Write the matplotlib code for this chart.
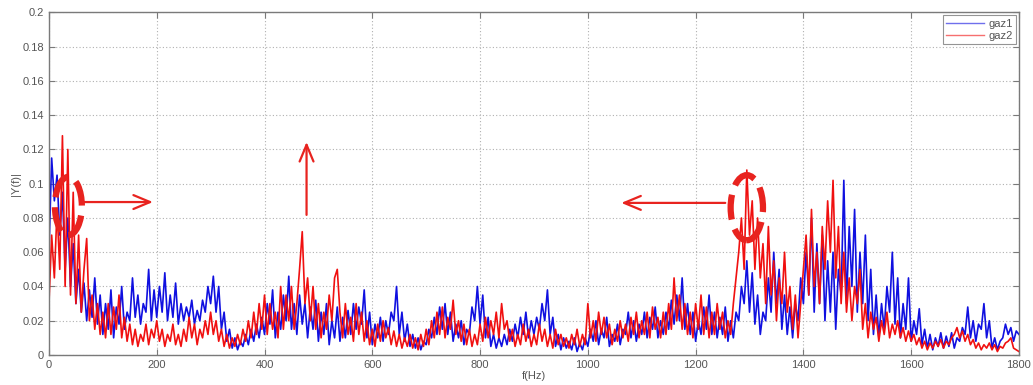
import numpy as np
import matplotlib
matplotlib.use('Agg')
import matplotlib.pyplot as plt
from matplotlib.patches import Ellipse

# -----------------------------------------
# ----------- DATA ------------------------
# -----------------------------------------

F_STEP = 5
F_MAX = 1800

# |Y(f)| for gaz1, one value every 5 Hz (one row = 100 Hz)
gaz1 = [
    0.060, 0.115, 0.090, 0.105, 0.070, 0.095, 0.050, 0.080, 0.040, 0.065, 0.030, 0.050, 0.025, 0.042, 0.020, 0.038, 0.022, 0.045, 0.018, 0.035,
    0.012, 0.030, 0.015, 0.038, 0.010, 0.028, 0.018, 0.040, 0.015, 0.025, 0.020, 0.045, 0.022, 0.035, 0.018, 0.030, 0.025, 0.050, 0.020, 0.038,
    0.022, 0.040, 0.025, 0.048, 0.020, 0.035, 0.022, 0.042, 0.018, 0.030, 0.020, 0.028, 0.022, 0.032, 0.018, 0.026, 0.020, 0.032, 0.025, 0.040,
    0.030, 0.046, 0.025, 0.040, 0.015, 0.025, 0.008, 0.015, 0.004, 0.010, 0.003, 0.008, 0.005, 0.012, 0.006, 0.015, 0.008, 0.018, 0.010, 0.022,
    0.012, 0.030, 0.018, 0.038, 0.010, 0.025, 0.015, 0.035, 0.020, 0.046, 0.015, 0.030, 0.012, 0.035, 0.018, 0.030, 0.010, 0.028, 0.015, 0.032,
    0.008, 0.025, 0.012, 0.030, 0.006, 0.020, 0.010, 0.028, 0.008, 0.022, 0.010, 0.026, 0.012, 0.030, 0.015, 0.028, 0.018, 0.038, 0.010, 0.025,
    0.006, 0.018, 0.010, 0.022, 0.008, 0.020, 0.012, 0.025, 0.020, 0.040, 0.012, 0.025, 0.008, 0.018, 0.005, 0.012, 0.004, 0.010, 0.003, 0.008,
    0.006, 0.015, 0.010, 0.022, 0.012, 0.028, 0.015, 0.030, 0.012, 0.025, 0.008, 0.018, 0.010, 0.020, 0.006, 0.015, 0.012, 0.028, 0.020, 0.040,
    0.018, 0.035, 0.010, 0.022, 0.005, 0.012, 0.004, 0.010, 0.005, 0.012, 0.006, 0.015, 0.008, 0.018, 0.010, 0.022, 0.012, 0.025, 0.010, 0.020,
    0.012, 0.022, 0.015, 0.030, 0.020, 0.038, 0.012, 0.022, 0.005, 0.012, 0.003, 0.010, 0.004, 0.008, 0.003, 0.010, 0.002, 0.007, 0.003, 0.010,
    0.005, 0.015, 0.008, 0.020, 0.006, 0.015, 0.010, 0.022, 0.005, 0.012, 0.008, 0.018, 0.006, 0.015, 0.012, 0.025, 0.010, 0.020, 0.008, 0.018,
    0.012, 0.025, 0.010, 0.022, 0.015, 0.028, 0.010, 0.020, 0.012, 0.025, 0.015, 0.032, 0.018, 0.035, 0.020, 0.045, 0.015, 0.030, 0.012, 0.025,
    0.008, 0.020, 0.012, 0.028, 0.015, 0.035, 0.012, 0.025, 0.010, 0.022, 0.012, 0.028, 0.008, 0.020, 0.010, 0.025, 0.020, 0.040, 0.030, 0.055,
    0.025, 0.048, 0.018, 0.035, 0.012, 0.025, 0.020, 0.045, 0.025, 0.060, 0.030, 0.050, 0.015, 0.035, 0.012, 0.028, 0.010, 0.030, 0.020, 0.045,
    0.030, 0.060, 0.035, 0.080, 0.025, 0.065, 0.030, 0.070, 0.020, 0.055, 0.025, 0.060, 0.015, 0.050, 0.035, 0.102, 0.030, 0.075, 0.040, 0.085,
    0.025, 0.060, 0.030, 0.070, 0.020, 0.050, 0.012, 0.035, 0.010, 0.030, 0.015, 0.040, 0.025, 0.060, 0.018, 0.045, 0.010, 0.030, 0.015, 0.045,
    0.008, 0.020, 0.012, 0.027, 0.006, 0.015, 0.004, 0.012, 0.003, 0.010, 0.005, 0.013, 0.004, 0.011, 0.005, 0.013, 0.004, 0.010, 0.008, 0.016,
    0.012, 0.028, 0.010, 0.020, 0.008, 0.018, 0.015, 0.030, 0.010, 0.020, 0.004, 0.010, 0.003, 0.008, 0.010, 0.018, 0.012, 0.016, 0.008, 0.014,
    0.012,
]

# |Y(f)| for gaz2
gaz2 = [
    0.030, 0.070, 0.045, 0.085, 0.050, 0.128, 0.040, 0.120, 0.035, 0.095, 0.030, 0.070, 0.025, 0.050, 0.068, 0.020, 0.035, 0.015, 0.030, 0.012,
    0.025, 0.010, 0.030, 0.012, 0.028, 0.015, 0.035, 0.010, 0.022, 0.008, 0.018, 0.006, 0.015, 0.005, 0.012, 0.008, 0.018, 0.006, 0.015, 0.010,
    0.020, 0.008, 0.015, 0.005, 0.012, 0.008, 0.018, 0.006, 0.012, 0.005, 0.015, 0.008, 0.022, 0.010, 0.018, 0.006, 0.015, 0.010, 0.020, 0.012,
    0.025, 0.012, 0.020, 0.008, 0.015, 0.005, 0.012, 0.004, 0.010, 0.005, 0.012, 0.006, 0.015, 0.008, 0.020, 0.010, 0.025, 0.012, 0.030, 0.015,
    0.035, 0.012, 0.030, 0.015, 0.025, 0.010, 0.040, 0.015, 0.035, 0.020, 0.040, 0.015, 0.030, 0.050, 0.072, 0.030, 0.045, 0.020, 0.040, 0.015,
    0.030, 0.010, 0.025, 0.015, 0.035, 0.020, 0.045, 0.050, 0.025, 0.010, 0.030, 0.012, 0.022, 0.008, 0.030, 0.012, 0.025, 0.008, 0.020, 0.006,
    0.015, 0.005, 0.018, 0.008, 0.020, 0.010, 0.016, 0.006, 0.014, 0.005, 0.012, 0.004, 0.010, 0.005, 0.012, 0.004, 0.010, 0.003, 0.012, 0.005,
    0.015, 0.006, 0.020, 0.010, 0.025, 0.012, 0.028, 0.010, 0.022, 0.015, 0.032, 0.012, 0.020, 0.008, 0.018, 0.006, 0.015, 0.005, 0.012, 0.006,
    0.018, 0.008, 0.022, 0.010, 0.020, 0.012, 0.025, 0.010, 0.030, 0.015, 0.020, 0.008, 0.015, 0.005, 0.012, 0.006, 0.018, 0.008, 0.015, 0.005,
    0.012, 0.006, 0.018, 0.008, 0.015, 0.005, 0.012, 0.004, 0.015, 0.006, 0.012, 0.005, 0.010, 0.004, 0.012, 0.006, 0.015, 0.005, 0.012, 0.006,
    0.030, 0.010, 0.020, 0.008, 0.025, 0.012, 0.022, 0.010, 0.018, 0.006, 0.015, 0.008, 0.020, 0.010, 0.018, 0.008, 0.022, 0.012, 0.025, 0.010,
    0.020, 0.012, 0.025, 0.010, 0.028, 0.015, 0.022, 0.010, 0.025, 0.012, 0.030, 0.015, 0.045, 0.020, 0.035, 0.015, 0.030, 0.012, 0.025, 0.010,
    0.030, 0.015, 0.035, 0.012, 0.028, 0.010, 0.025, 0.012, 0.030, 0.015, 0.025, 0.010, 0.020, 0.012, 0.030, 0.045, 0.060, 0.080, 0.050, 0.108,
    0.070, 0.090, 0.050, 0.080, 0.045, 0.065, 0.030, 0.075, 0.035, 0.055, 0.020, 0.045, 0.030, 0.060, 0.025, 0.040, 0.015, 0.035, 0.010, 0.030,
    0.050, 0.070, 0.035, 0.085, 0.040, 0.060, 0.030, 0.075, 0.050, 0.090, 0.060, 0.102, 0.045, 0.075, 0.030, 0.060, 0.025, 0.045, 0.020, 0.040,
    0.030, 0.050, 0.015, 0.030, 0.010, 0.025, 0.015, 0.022, 0.008, 0.020, 0.012, 0.025, 0.010, 0.018, 0.012, 0.020, 0.010, 0.016, 0.008, 0.014,
    0.008, 0.012, 0.006, 0.010, 0.004, 0.008, 0.003, 0.007, 0.004, 0.008, 0.005, 0.009, 0.004, 0.008, 0.006, 0.010, 0.012, 0.016, 0.010, 0.014,
    0.008, 0.012, 0.006, 0.009, 0.004, 0.007, 0.003, 0.006, 0.004, 0.007, 0.003, 0.006, 0.002, 0.005, 0.004, 0.007, 0.008, 0.010, 0.004, 0.003,
    0.002,
]

X_TICKS = [0, 200, 400, 600, 800, 1000, 1200, 1400, 1600, 1800]
Y_TICKS = [0, 0.02, 0.04, 0.06, 0.08, 0.1, 0.12, 0.14, 0.16, 0.18, 0.2]
Y_TICK_LABELS = ['0', '0.02', '0.04', '0.06', '0.08', '0.1', '0.12', '0.14', '0.16', '0.18', '0.2']

# -----------------------------------------
# ----------- STYLE -----------------------
# -----------------------------------------

plt.rcParams['font.family'] = ['Liberation Sans', 'DejaVu Sans']

BLUE = '#1010e0'
RED = '#f01010'
MARK_RED = '#e8231f'
AXIS_GREY = '#7a7a7a'
TEXT_GREY = '#555555'

freq = np.arange(0, F_MAX + F_STEP, F_STEP)

fig = plt.figure(figsize=(10.33, 3.85), dpi=100)
ax = fig.add_axes([0.0474, 0.078, 0.939, 0.8896])

ax.plot(freq, gaz1, color=BLUE, lw=1.2, label='gaz1')
ax.plot(freq, gaz2, color=RED, lw=1.2, label='gaz2')

ax.set_xlim(0, F_MAX)
ax.set_ylim(0, 0.2)
ax.set_xticks(X_TICKS)
ax.set_xticklabels([str(t) for t in X_TICKS])
ax.set_yticks(Y_TICKS)
ax.set_yticklabels(Y_TICK_LABELS)

ax.grid(True, linestyle=(0, (1, 2)), color='#b0b0b0', lw=0.8)
ax.tick_params(direction='in', length=4, top=True, right=True,
               colors=AXIS_GREY, labelcolor=TEXT_GREY, labelsize=8)
for sp in ax.spines.values():
    sp.set_color(AXIS_GREY)
    sp.set_linewidth(1.0)

ax.set_xlabel('f(Hz)', fontsize=8, color=TEXT_GREY, labelpad=1)
ax.set_ylabel('|Y(f)|', fontsize=8, color=TEXT_GREY, labelpad=1)

leg = ax.legend(loc='upper right', fontsize=8, frameon=True, fancybox=False,
                handlelength=3.4, borderpad=0.3, labelspacing=0.2,
                handletextpad=0.4, borderaxespad=0.25)
leg.get_frame().set_edgecolor(AXIS_GREY)
leg.get_frame().set_linewidth(0.8)
for line in leg.get_lines():
    line.set_alpha(0.6)
    line.set_linewidth(1.0)
for txt in leg.get_texts():
    txt.set_color(TEXT_GREY)

# -----------------------------------------
# ----------- ANNOTATIONS -----------------
# -----------------------------------------

ring_style = dict(fill=False, edgecolor=MARK_RED, lw=4.5,
                  linestyle=(0, (4.0, 1.6)), zorder=5)
ax.add_patch(Ellipse((36, 0.087), 50, 0.034, **ring_style))
ax.add_patch(Ellipse((1295, 0.086), 60, 0.038, **ring_style))

arrow_style = dict(arrowstyle='->,head_length=1.2,head_width=0.5',
                   color=MARK_RED, lw=1.6, shrinkA=0, shrinkB=0)
ax.annotate('', xy=(193, 0.0893), xytext=(62, 0.0893), arrowprops=arrow_style, zorder=6)
ax.annotate('', xy=(478, 0.1244), xytext=(478, 0.0818), arrowprops=arrow_style, zorder=6)
ax.annotate('', xy=(1062, 0.0888), xytext=(1255, 0.0888), arrowprops=arrow_style, zorder=6)

fig.savefig('out.png', dpi=100)
